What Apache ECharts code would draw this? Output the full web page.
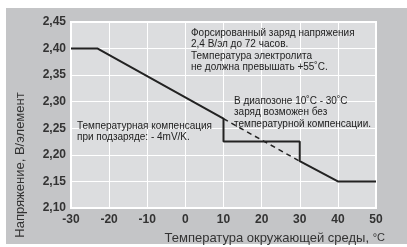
<!DOCTYPE html>
<html>
<head>
<meta charset="utf-8">
<script src="https://cdn.jsdelivr.net/npm/echarts@6/dist/echarts.min.js"></script>
<style>
  html, body { margin: 0; padding: 0; background: #fff; }
  #chart { width: 407px; height: 247px; }
</style>
</head>
<body>
<div id="chart"></div>
<script>
// данные графика
const xTicks = [-30, -20, -10, 0, 10, 20, 30, 40, 50];
const yTicks = [2.10, 2.15, 2.20, 2.25, 2.30, 2.35, 2.40, 2.45];

// основная кривая (температура, напряжение)
const chargeTemp = [-30, -23, 10, 10, 30, 30, 40, 50];
const chargeVolt = [2.40, 2.40, 2.268, 2.225, 2.225, 2.188, 2.15, 2.15];

// пунктир - продолжение компенсации
const compTemp = [10, 30];
const compVolt = [2.268, 2.188];

const note1 = ['Форсированный заряд напряжения', '2,4 В/эл до 72 часов.', 'Температура электролита', 'не должна превышать +55˚C.'];
const note2 = ['В диапозоне 10˚C - 30˚C', 'заряд возможен без', 'температурной компенсации.'];
const note3 = ['Температурная компенсация', 'при подзаряде: - 4mV/K.'];

const chartDom = document.getElementById('chart');
const myChart = echarts.init(chartDom);

const pairs = (xs, ys) => xs.map((x, i) => [x, ys[i]]);
const noteStyle = { fill: '#222', fontSize: 10, fontFamily: 'Liberation Sans', lineHeight: 11.5 };

const option = {
    animation: false,
    backgroundColor: '#fff',
    grid: {
        left: 71, right: 31, top: 22, bottom: 39,
        show: true,
        backgroundColor: '#dcdddf',
        borderColor: '#fff',
        borderWidth: 2
    },
    xAxis: {
        type: 'value',
        min: xTicks[0],
        max: xTicks[xTicks.length - 1],
        interval: 10,
        axisLine: { show: false },
        axisTick: { show: false },
        splitLine: { lineStyle: { color: '#fff', width: 1 } },
        axisLabel: {
            margin: 6,
            color: '#333',
            fontWeight: 'bold',
            fontSize: 12,
            fontFamily: 'Liberation Sans'
        }
    },
    yAxis: {
        type: 'value',
        min: yTicks[0],
        max: yTicks[yTicks.length - 1],
        interval: 0.05,
        axisLine: { show: false },
        axisTick: { show: false },
        splitLine: { lineStyle: { color: '#fff', width: 1 } },
        axisLabel: {
            margin: 5,
            color: '#333',
            fontWeight: 'bold',
            fontSize: 12,
            fontFamily: 'Liberation Sans',
            formatter: v => v.toFixed(2).replace('.', ',')
        }
    },
    graphic: [
        {
            type: 'rect', z: -10, silent: true,
            shape: { x: 6, y: 8, width: 401, height: 236 },
            style: { fill: '#c4c5c7' }
        },
        {
            type: 'text', z: 10,
            x: 20, y: 165, rotation: Math.PI / 2,
            style: {
                text: 'Напряжение, В/элемент',
                fill: '#333', fontSize: 13, fontFamily: 'Liberation Sans',
                align: 'center', verticalAlign: 'middle'
            }
        },
        {
            type: 'text', z: 10,
            x: 385, y: 238,
            style: {
                text: 'Температура окружающей среды, {s|°C}',
                rich: { s: { fontSize: 11, fill: '#333', fontFamily: 'Liberation Sans' } },
                fill: '#333', fontSize: 13, fontFamily: 'Liberation Sans',
                align: 'right', verticalAlign: 'middle'
            }
        },
        {
            type: 'text', z: 10, x: 191, y: 27,
            style: Object.assign({ text: note1.join('\n') }, noteStyle)
        },
        {
            type: 'text', z: 10, x: 234, y: 95,
            style: Object.assign({ text: note2.join('\n') }, noteStyle)
        },
        {
            type: 'text', z: 10, x: 77, y: 120,
            style: Object.assign({ text: note3.join('\n') }, noteStyle)
        }
    ],
    series: [
        {
            type: 'line',
            data: pairs(chargeTemp, chargeVolt),
            symbol: 'none',
            lineStyle: { color: '#222', width: 2 }
        },
        {
            type: 'line',
            data: pairs(compTemp, compVolt),
            symbol: 'none',
            lineStyle: { color: '#222', width: 1.5, type: [5, 4] }
        }
    ]
};

option && myChart.setOption(option);
</script>
</body>
</html>
